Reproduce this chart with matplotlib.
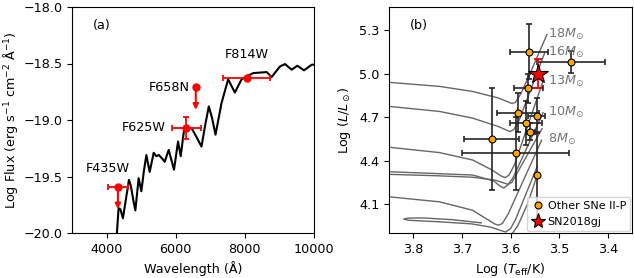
import numpy as np
import matplotlib
matplotlib.use('Agg')
import matplotlib.pyplot as plt
from matplotlib.lines import Line2D

# ---- panel (a): spectrum + HST photometry ----
wave = [4299, 4348, 4400, 4473, 4560, 4647, 4700, 4780, 4832, 4928, 5006, 5080,
        5151, 5247, 5363, 5437, 5516, 5632, 5681, 5797, 5951, 6067, 6145, 6241,
        6311, 6456, 6600, 6745, 6850, 6957, 7050, 7151, 7325, 7517, 7711, 7905,
        8050, 8241, 8630, 8775, 9016, 9161, 9354, 9517, 9711, 9934, 10000]
flux = [-20.0, -19.78, -19.79, -19.87, -19.70, -19.53, -19.58, -19.72, -19.80,
        -19.515, -19.63, -19.45, -19.31, -19.46, -19.29, -19.32, -19.31, -19.35,
        -19.37, -19.265, -19.44, -19.19, -19.32, -19.087, -19.07, -19.07, -19.15,
        -19.235, -19.05, -18.88, -18.98, -19.13, -18.85, -18.64, -18.757, -18.64,
        -18.615, -18.585, -18.576, -18.62, -18.526, -18.505, -18.555, -18.52,
        -18.56, -18.511, -18.51]

filters = ['F435W', 'F625W', 'F658N', 'F814W']
filt_wave = [4328, 6311, 6580, 8050]
filt_flux = [-19.59, -19.07, -18.71, -18.63]
filt_werr = [290, 416, 0, 677]
filt_ferr = [0, 0.095, 0, 0]
filt_uplim = [True, False, True, False]

# ---- panel (b): HR diagram ----
other_T = [3.562, 3.475, 3.563, 3.584, 3.546, 3.569, 3.559, 3.639, 3.589, 3.546]
other_L = [5.15, 5.08, 4.90, 4.73, 4.71, 4.66, 4.60, 4.55, 4.45, 4.30]
other_Terr = [0.04, 0.07, 0.03, 0.043, 0.018, 0.033, 0.01, 0.057, 0.11, 0.0]
other_Lerr = [0.19, 0.075, 0.10, 0.135, 0.12, 0.15, 0.06, 0.35, 0.25, 0.3]

sn_T = 3.543
sn_L = 5.0
sn_Lerr = 0.1

tracks = [
    ([3.85, 3.746, 3.678, 3.625, 3.605, 3.598, 3.590, 3.578, 3.56, 3.525],
     [4.94, 4.912, 4.877, 4.832, 4.805, 4.795, 4.80, 4.866, 5.00, 5.27]),
    ([3.85, 3.746, 3.678, 3.625, 3.608, 3.601, 3.593, 3.582, 3.53],
     [4.774, 4.739, 4.693, 4.635, 4.61, 4.60, 4.615, 4.68, 5.14]),
    ([3.85, 3.746, 3.678, 3.638, 3.620, 3.611, 3.603, 3.592, 3.533],
     [4.492, 4.455, 4.404, 4.335, 4.295, 4.282, 4.30, 4.37, 4.95]),
    ([3.85, 3.75, 3.678, 3.635, 3.622, 3.614, 3.606, 3.595, 3.533],
     [4.323, 4.31, 4.30, 4.26, 4.225, 4.21, 4.23, 4.28, 4.73]),
    ([3.85, 3.75, 3.678, 3.632, 3.613, 3.605, 3.597, 3.587, 3.535],
     [4.305, 4.295, 4.285, 4.265, 4.245, 4.235, 4.25, 4.31, 4.62]),
    ([3.85, 3.746, 3.678, 3.645, 3.632, 3.625, 3.617, 3.605, 3.536],
     [4.15, 4.115, 4.057, 3.988, 3.962, 3.954, 3.965, 4.03, 4.54]),
    ([3.66, 3.72, 3.78, 3.81, 3.82, 3.81, 3.75, 3.68, 3.64, 3.618, 3.61, 3.60, 3.59, 3.545],
     [3.97, 3.992, 4.004, 4.003, 3.996, 3.988, 3.978, 3.963, 3.94, 3.915, 3.907, 3.93, 3.99, 4.36]),
    ([3.60, 3.585, 3.565, 3.545],
     [3.88, 3.95, 4.10, 4.30]),
]
track_labels = ['18', '16', '13', '10', '8']
label_L = [5.27, 5.143, 4.947, 4.735, 4.543]

plt.rcParams['font.size'] = 9.2

fig = plt.figure(figsize=(6.34, 2.78), dpi=100)
ax1 = fig.add_axes([72/634, 45/278, 242/634, 226/278])
ax2 = fig.add_axes([389/634, 45/278, 243/634, 226/278])

# (a)
ax1.plot(wave, flux, 'k', lw=1.5)
for i in range(len(filters)):
    xe = filt_werr[i] if filt_werr[i] > 0 else None
    ye = filt_ferr[i] if filt_ferr[i] > 0 else None
    ax1.errorbar(filt_wave[i], filt_flux[i], xerr=xe, yerr=ye, fmt='o', color='red',
                 ms=5, lw=1.3, capsize=2.5, capthick=1.3, zorder=3)
    if filt_uplim[i]:
        ax1.annotate('', xy=(filt_wave[i], filt_flux[i] - 0.2),
                     xytext=(filt_wave[i], filt_flux[i]),
                     arrowprops=dict(arrowstyle='-|>', color='red', lw=1.5,
                                     mutation_scale=8, shrinkA=0, shrinkB=0))

ax1.text(filt_wave[0] - 300, filt_flux[0] + 0.165, filters[0], ha='center', va='center')
ax1.text(filt_wave[1] - 610, filt_flux[1], filters[1], ha='right', va='center')
ax1.text(filt_wave[2] - 160, filt_flux[2], filters[2], ha='right', va='center')
ax1.text(filt_wave[3], filt_flux[3] + 0.21, filters[3], ha='center', va='center')
ax1.text(0.085, 0.92, '(a)', transform=ax1.transAxes, va='center')

ax1.set_xlim(3000, 10000)
ax1.set_ylim(-20, -18)
ax1.set_xticks([4000, 6000, 8000, 10000])
ax1.set_yticks([-20.0, -19.5, -19.0, -18.5, -18.0])
ax1.set_yticklabels(['−20.0', '−19.5', '−19.0', '−18.5', '−18.0'])
ax1.set_xlabel('Wavelength (Å)')
ax1.set_ylabel(r'Log Flux (erg s$^{-1}$ cm$^{-2}$ Å$^{-1}$)', labelpad=2)

# (b)
for T, L in tracks:
    ax2.plot(T, L, color='0.4', lw=1.0, zorder=1)
for lab, yl in zip(track_labels, label_L):
    ax2.text(3.522, yl, lab + r'$M_{\odot}$', color='0.45', ha='left', va='center')

for i in range(len(other_T)):
    xe = other_Terr[i] if other_Terr[i] > 0 else None
    ax2.errorbar(other_T[i], other_L[i], xerr=xe, yerr=other_Lerr[i], fmt='none',
                 ecolor='0.15', lw=1.2, capsize=2.5, capthick=1.2, zorder=2)
ax2.plot(other_T, other_L, 'o', color='orange', mec='k', mew=0.8, ms=5, zorder=3)
ax2.errorbar(sn_T, sn_L, yerr=sn_Lerr, fmt='none', ecolor='red', lw=1.3,
             capsize=3, capthick=1.3, zorder=4)
ax2.plot(sn_T, sn_L, '*', color='red', mec='k', mew=0.8, ms=15, zorder=5)
ax2.text(0.085, 0.92, '(b)', transform=ax2.transAxes, va='center')

ax2.set_xlim(3.85, 3.35)
ax2.set_ylim(3.9, 5.46)
ax2.set_xticks([3.8, 3.7, 3.6, 3.5, 3.4])
ax2.set_yticks([4.1, 4.4, 4.7, 5.0, 5.3])
ax2.set_xlabel(r'Log ($T_{\rm eff}$/K)')
ax2.set_ylabel(r'Log ($L/L_\odot$)')

handles = [Line2D([], [], ls='none', marker='o', color='orange', mec='k', mew=0.8, ms=5),
           Line2D([], [], ls='none', marker='*', color='red', mec='k', mew=0.8, ms=11)]
ax2.legend(handles, ['Other SNe II-P', 'SN2018gj'], loc='lower right', fontsize=8,
           handletextpad=0.3, borderpad=0.35, labelspacing=0.5, borderaxespad=0.2,
           handlelength=1.2)

fig.savefig('out.png', dpi=100)
